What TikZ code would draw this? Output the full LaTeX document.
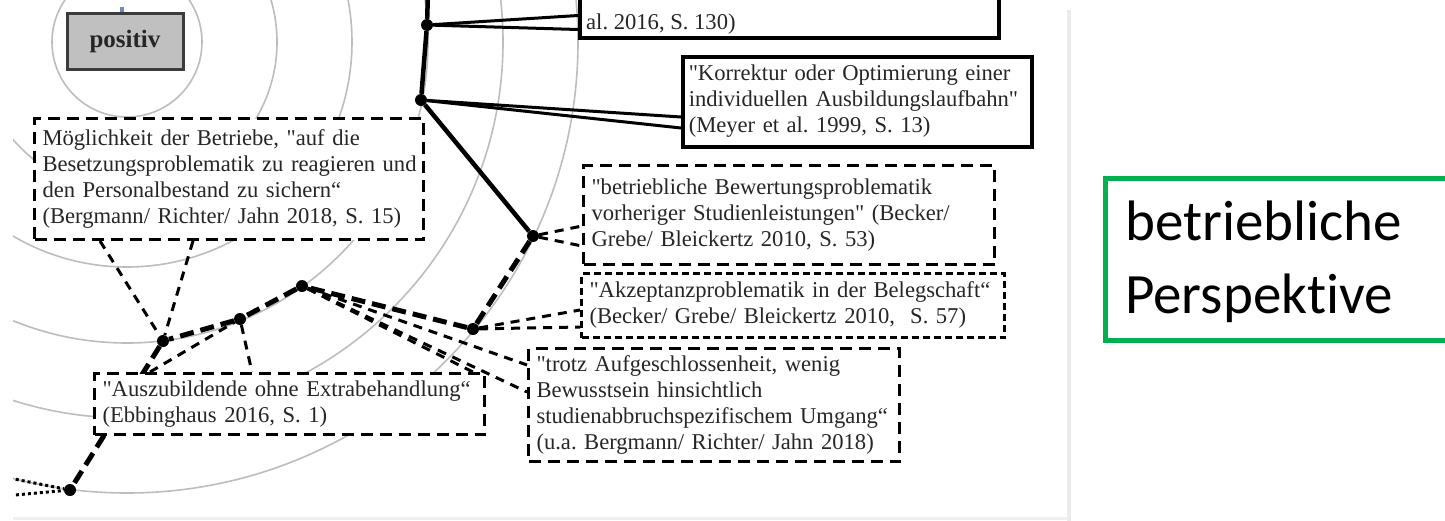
\documentclass[tikz,border=0pt]{standalone}
\usepackage{fontspec}
\setmainfont{Liberation Serif}[Ligatures=TeXOff]
\newfontfamily\calfont{Carlito}[Ligatures=CommonOff]
\usetikzlibrary{calc}
\pgfdeclarelayer{bglayer}
\pgfdeclarelayer{ringlayer}
\pgfdeclarelayer{wirelayer}
\pgfsetlayers{bglayer,ringlayer,wirelayer,main}
\frenchspacing
\newcommand{\tb}[1]{\begin{tabular}{@{}l@{}}#1\end{tabular}}
\definecolor{circgray}{HTML}{BDBDBD}
\definecolor{sepgray}{HTML}{EBEBEB}
\definecolor{offgreen}{HTML}{00B050}
\definecolor{txtgray}{HTML}{262626}
\definecolor{boxgray}{HTML}{C0C0C0}
\definecolor{bordergray}{HTML}{3C3C3C}
\definecolor{markblue}{HTML}{6A8CC0}
\tikzset{
  ring/.style={draw=circgray, line width=1.6pt},
  dot/.style={circle, fill=black, inner sep=0pt, minimum size=12pt},
  spine/.style={line width=4.5pt},
  link/.style={line width=3pt},
  heavydash/.style={line width=5pt, dash pattern=on 14pt off 7pt},
  lightdash/.style={line width=3pt, dash pattern=on 9pt off 7pt},
  dotline/.style={line width=3pt, dash pattern=on 3pt off 3pt},
  txt/.style={font=\fontsize{22.6}{26}\selectfont, text=txtgray},
  dbox/.style={txt, draw=black, fill=white, line width=3pt, dash pattern=on 12pt off 7pt, anchor=north west, inner xsep=8pt, inner ysep=0pt},
  fbox/.style={dbox, dash pattern=on 7pt off 4pt},
  sbox/.style={txt, draw=black, fill=white, line width=3.5pt, anchor=north west, inner xsep=6pt, inner ysep=0pt},
  posbox/.style={draw=bordergray, fill=boxgray, line width=3pt, minimum width=116pt, minimum height=56pt, inner sep=0pt, font=\bfseries\fontsize{25}{28}\selectfont, text=black!85},
  bluestub/.style={draw=markblue, line width=4pt},
  greenbox/.style={draw=offgreen, line width=5pt, anchor=north west, minimum width=357pt, minimum height=162pt, inner sep=0pt},
  persptext/.style={font=\calfont\fontsize{57}{73}\selectfont, text=black, anchor=north west, inner sep=0pt, align=left},
  sepline/.style={draw=sepgray, line width=4pt},
}
\begin{document}
\begin{tikzpicture}[x=1pt,y=-1pt]
\useasboundingbox (0,0) rectangle (1445,520);
\begin{pgfonlayer}{bglayer}
  \fill[white] (0,0) rectangle (1445,520);
\end{pgfonlayer}

\coordinate (O) at (127,42);
\coordinate (Atop) at (428,-8);
\coordinate (Hl1) at (4,477);
\coordinate (Hl2) at (4,496);

\begin{scope}
\clip (0,0) rectangle (1445,520);
% junction dots
\node[dot] (A) at (427,25) {};
\node[dot] (B) at (421,100) {};
\node[dot] (C) at (533,236) {};
\node[dot] (D) at (473,329) {};
\node[dot] (E) at (302,286) {};
\node[dot] (F) at (240,319) {};
\node[dot] (G) at (163,341) {};
\node[dot] (H) at (70,490) {};

% positiv
\node[posbox] (Pos) at (125,41) {positiv};
\draw[bluestub] ([xshift=-3pt]Pos.north) -- ++(0,-5);

% boxes
\node[sbox, text width=407pt, minimum height=96pt] (T) at (578,-60) {};
\node[txt, anchor=base west, inner sep=0pt] (Ttext) at (586,29) {al. 2016, S. 130)};
\node[sbox, text width=337pt, minimum height=90pt] (K) at (681,55) {\tb{"Korrektur oder Optimierung einer\\individuellen Ausbildungslaufbahn"\\(Meyer et al. 1999, S. 13)}};
\node[dbox, text width=373pt, minimum height=121pt] (Mo) at (33,117) {\tb{Möglichkeit der Betriebe, "auf die\\Besetzungsproblematik zu reagieren und\\den Personalbestand zu sichern“\\(Bergmann/ Richter/ Jahn 2018, S. 15)}};
\node[dbox, text width=395pt, minimum height=99pt] (Bw) at (582,164) {\tb{"betriebliche Bewertungsproblematik\\vorheriger Studienleistungen" (Becker/\\Grebe/ Bleickertz 2010, S. 53)}};
\node[fbox, text width=407pt, minimum height=64pt] (Ak) at (580,272) {\tb{"Akzeptanzproblematik in der Belegschaft“\\(Becker/ Grebe/ Bleickertz 2010,\ \ S. 57)}};
\node[dbox, text width=355pt, minimum height=113pt] (Tr) at (527,347) {\tb{"trotz Aufgeschlossenheit, wenig\\Bewusstsein hinsichtlich\\studienabbruchspezifischem Umgang“\\(u.a. Bergmann/ Richter/ Jahn 2018)}};
\node[dbox, text width=374pt, minimum height=61pt] (Au) at (93,372) {\tb{"Auszubildende ohne Extrabehandlung“\\(Ebbinghaus 2016, S. 1)}};

% right side
\draw[sepline] (1069,10) -- (1069,522);
\draw[draw=sepgray!80, line width=3pt] (13,518) -- (1067,518);
\node[greenbox] (Persp) at (1102.5,175.5) {};
\node[persptext] (PerspText) at (1125,201) {betriebliche\\Perspektive};
\end{scope}

% concentric rings
\begin{pgfonlayer}{ringlayer}
\begin{scope}
\clip (13,0) rectangle (1066,516);
\foreach \r in {75,150,225,301,376,451} \draw[ring] (O) circle[radius=\r pt];
\end{scope}
\end{pgfonlayer}

% connectors
\begin{pgfonlayer}{wirelayer}
\begin{scope}
\clip (13,0) rectangle (1066,516);
\draw[spine] (Atop) -- (A) -- (B) -- (C);
\draw[link] (A) -- ($(T.south west)+(0,-24)$);
\draw[link] (A) -- ($(T.south west)+(0,-10)$);
\draw[link] (B) -- ($(K.north west)+(0,62)$);
\draw[link] (B) -- ($(K.north west)+(0,73)$);
\draw[heavydash] (C) -- (D) -- (E) -- (F) -- (G) -- (H);
\draw[lightdash] (C) -- ($(Bw.north west)+(0,62)$);
\draw[lightdash] (C) -- ($(Bw.north west)+(0,82)$);
\draw[lightdash] (D) -- ($(Ak.north west)+(0,38)$);
\draw[lightdash] (D) -- ($(Ak.north west)+(0,55)$);
\draw[lightdash] (E) -- ($(Tr.north west)+(0,18)$);
\draw[lightdash] (E) -- ($(Tr.north west)+(0,45)$);
\draw[lightdash] (E) -- ($(Au.north east)+(-13,0)$);
\draw[lightdash] (F) -- ($(Au.north west)+(159,0)$);
\draw[lightdash] ($(Au.north west)+(57,0)$) -- (F);
\draw[lightdash] ($(Mo.south west)+(67,0)$) -- (G);
\draw[lightdash] ($(Mo.south west)+(160,0)$) -- (G);
\draw[dotline] (Hl1) -- (H);
\draw[dotline] (Hl2) -- (H);
\end{scope}
\end{pgfonlayer}
\end{tikzpicture}
\end{document}
